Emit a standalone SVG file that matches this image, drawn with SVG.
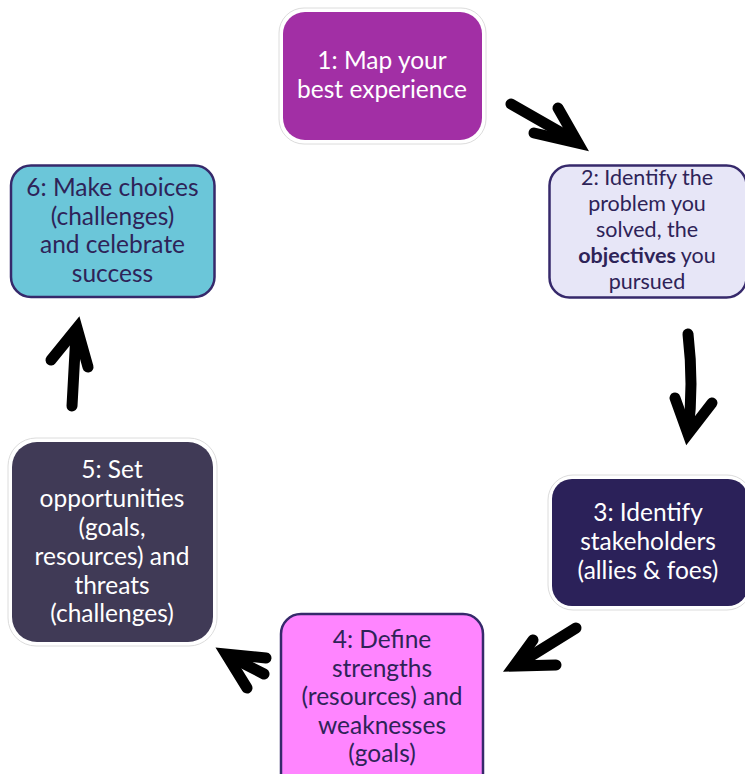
<svg xmlns="http://www.w3.org/2000/svg" width="745" height="774" viewBox="0 0 745 774">
<style>
  text { font-family: Lato, "Open Sans", "Liberation Sans", sans-serif; text-anchor: middle; }
  .big { font-size: 24.5px; }
  .small { font-size: 21.5px; }
  .w { fill: #ffffff; }
  .d { fill: #2E2358; }
  .halo { fill: #ffffff; stroke: #dcdcdc; stroke-width: 1; }
  .outl { stroke: #36296B; stroke-width: 2.5; }
  .arrow { fill: none; stroke: #000000; stroke-width: 11; stroke-linecap: round; stroke-linejoin: miter; stroke-miterlimit: 10; }
</style>
<rect width="745" height="774" fill="#ffffff"/>

<g id="node1">
  <rect class="halo" x="279" y="8" width="207" height="136" rx="25"/>
  <rect x="283" y="12" width="199" height="128" rx="22" fill="#A22FA5"/>
  <text class="big w" x="382" y="69">1: Map your</text>
  <text class="big w" x="382" y="98">best experience</text>
</g>

<g id="node2">
  <rect class="outl" x="549.5" y="165.5" width="197" height="132" rx="20" fill="#E7E6F7"/>
  <text class="small d" x="647" y="185">2: Identify the</text>
  <text class="small d" x="647" y="211">problem you</text>
  <text class="small d" x="647" y="237">solved, the</text>
  <text class="small d" x="647" y="263"><tspan font-weight="bold">objectives</tspan> you</text>
  <text class="small d" x="647" y="289">pursued</text>
</g>

<g id="node3">
  <rect class="halo" x="548" y="475" width="204" height="135" rx="25"/>
  <rect x="552" y="479" width="196" height="127" rx="20" fill="#2B2159"/>
  <text class="big w" x="648" y="521">3: Identify</text>
  <text class="big w" x="648" y="550">stakeholders</text>
  <text class="big w" x="648" y="579">(allies &amp; foes)</text>
</g>

<g id="node4">
  <rect class="outl" x="281" y="614" width="202" height="180" rx="20" fill="#FF85FF"/>
  <text class="big d" x="382" y="648">4: Define</text>
  <text class="big d" x="382" y="676.5">strengths</text>
  <text class="big d" x="382" y="705">(resources) and</text>
  <text class="big d" x="382" y="733.5">weaknesses</text>
  <text class="big d" x="382" y="762">(goals)</text>
</g>

<g id="node5">
  <rect class="halo" x="8" y="438" width="209" height="208" rx="28"/>
  <rect x="12" y="442" width="201" height="200" rx="25" fill="#403A56"/>
  <text class="big w" x="112" y="478">5: Set</text>
  <text class="big w" x="112" y="507">opportunities</text>
  <text class="big w" x="112" y="536">(goals,</text>
  <text class="big w" x="112" y="565">resources) and</text>
  <text class="big w" x="112" y="594">threats</text>
  <text class="big w" x="112" y="622">(challenges)</text>
</g>

<g id="node6">
  <rect class="outl" x="11" y="165.5" width="203.5" height="131.5" rx="20" fill="#6BC6D9"/>
  <text class="big d" x="112.5" y="196">6: Make choices</text>
  <text class="big d" x="112.5" y="224.5">(challenges)</text>
  <text class="big d" x="112.5" y="253">and celebrate</text>
  <text class="big d" x="112.5" y="282">success</text>
</g>

<g id="connectors">
  <path class="arrow" d="M511 104 L574 140"/>
  <path class="arrow" d="M558 108 L578 143 L534 133"/>

  <path class="arrow" d="M688 334 Q694 385 688 432"/>
  <path class="arrow" d="M675 398 L688 434 L712 403"/>

  <path class="arrow" d="M576 628 L518 664"/>
  <path class="arrow" d="M533 640 L514 666 L556 665"/>

  <path class="arrow" d="M264 674 L229 656"/>
  <path class="arrow" d="M266 658 L226 654 L247 688"/>

  <path class="arrow" d="M72 406 L76 333"/>
  <path class="arrow" d="M51 360 L77 328 L88 367"/>
</g>
</svg>
